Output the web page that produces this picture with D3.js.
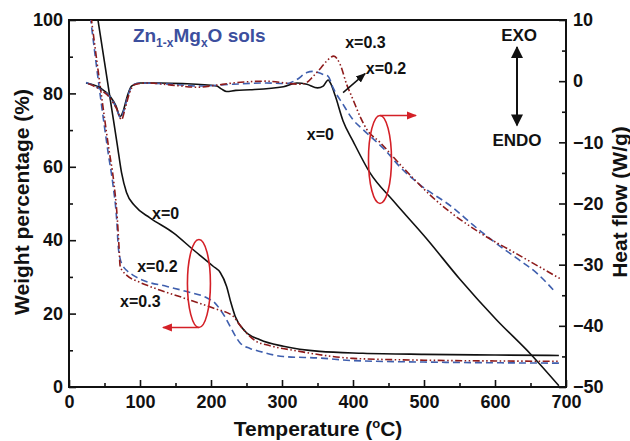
<!DOCTYPE html>
<html>
<head>
<meta charset="utf-8">
<script src="https://cdn.jsdelivr.net/npm/d3@7"></script>
<style>
body { margin: 0; background: #fff; }
svg { display: block; }
text { font-family: "Liberation Sans", Arial, sans-serif; font-weight: bold; }
</style>
</head>
<body>
<svg width="630" height="441"></svg>
<script>
// TG curves, [temperature (°C), weight (%)]
var tg0 = [[40, 101], [50, 88.5], [60, 76], [68, 66], [74, 58.4], [81, 53], [93, 49.3], [114, 46.1], [147, 42],
    [175, 37.4], [203, 32.9], [213, 31.2], [222, 27.4], [228, 23], [234, 19.3], [248, 15.2], [269, 12.9],
    [302, 11.1], [353, 9.7], [414, 9.2], [500, 8.9], [600, 8.7], [690, 8.6]]
var tg2 = [[30, 101], [45, 78], [55, 64], [62, 55], [67, 46], [69.5, 38], [72, 35], [76, 33], [81, 31.8],
    [90, 30.5], [100, 29.4], [138, 27.4], [166, 26], [194, 24.3], [205, 23], [213, 21.1], [220, 19],
    [227, 16.5], [234, 14], [241, 12], [255, 10.5], [269, 9.7], [302, 8.3], [353, 7.9], [400, 7.2],
    [500, 6.8], [600, 6.6], [690, 6.5]]
var tg3 = [[31, 101], [46, 79], [56, 65], [63, 56], [68, 46], [70.5, 38], [72, 33], [76, 31.5], [81, 30.5],
    [100, 28.5], [114, 27.4], [161, 24.3], [203, 21.5], [231, 19.3], [240, 17], [250, 14.7], [265, 12.3],
    [278, 11.5], [325, 9.7], [353, 8.8], [400, 7.8], [500, 7.3], [600, 7.1], [690, 7]]

// DSC curves, [temperature (°C), heat flow (W/g)]
var dsc0 = [[24, -0.3], [44, -1.1], [58, -2.5], [66, -4], [72, -5.8], [76, -5], [82, -2.5], [88, -0.8],
    [100, -0.3], [128, -0.3], [160, -0.4], [208, -0.8], [215, -1.3], [222, -1.7], [235, -1.5], [255, -1.4],
    [302, -0.9], [321, -0.3], [335, -0.5], [350, -1.1], [358, -0.8], [365, 0.2], [369, -0.5], [375, -2.4],
    [386, -6.5], [400, -9.8], [424, -15], [457, -19.6], [504, -25.8], [550, -32.3], [602, -39], [650, -44.6],
    [690, -49.8]]
var dsc2 = [[24, -0.2], [44, -1.3], [58, -2.6], [66, -4.2], [73, -6], [78, -4.5], [84, -2], [90, -0.6],
    [100, -0.3], [130, -0.4], [185, -0.8], [231, -0.5], [278, -0.3], [306, -0.4], [320, 0.2], [335, 1.4],
    [344, 1.6], [358, 1.1], [365, 0.8], [372, -1.1], [386, -3.8], [400, -6.3], [414, -7.9], [447, -11.5],
    [466, -14], [494, -16.9], [541, -20.7], [569, -23.5], [598, -26.2], [630, -28.9], [660, -31.5], [685, -34.5]]
var dsc3 = [[27, -0.4], [44, -1.4], [58, -2.8], [67, -4.5], [74, -6.3], [79, -4.5], [85, -2], [92, -0.6],
    [110, -0.3], [150, -0.7], [182, -1], [205, -0.7], [231, -0.3], [278, 0], [325, -0.5], [335, -0.2],
    [344, 0.8], [355, 2.2], [363, 3.3], [373, 4.1], [382, 2.7], [391, -0.5], [400, -3], [410, -5.8],
    [419, -7.8], [438, -10], [471, -14.2], [518, -19.6], [579, -24.8], [630, -28.2], [692, -32.3]]

// ticks
var xTicks = [0, 100, 200, 300, 400, 500, 600, 700]
var xMinor = [50, 150, 250, 350, 450, 550, 650]
var yLTicks = [0, 20, 40, 60, 80, 100]
var yLMinor = [10, 30, 50, 70, 90]
var yRTicks = [-50, -40, -30, -20, -10, 0, 10]
var yRMinor = [-45, -35, -25, -15, -5, 5]

var blue = '#3f5fae'
var maroon = '#8e1b1b'
var red = '#d42027'

var svg = d3.select('svg')

var x = d3.scaleLinear().domain([0, 700]).range([69, 566])
var yL = d3.scaleLinear().domain([0, 100]).range([387, 20])
var yR = d3.scaleLinear().domain([-50, 10]).range([387, 20])

var defs = svg.append('defs')
defs.append('clipPath').attr('id', 'plot')
    .append('rect').attr('x', 69).attr('y', 20).attr('width', 497).attr('height', 367)

function marker(id, color) {
    defs.append('marker')
        .attr('id', id)
        .attr('viewBox', '0 0 10 10')
        .attr('refX', 9).attr('refY', 5)
        .attr('markerWidth', 10).attr('markerHeight', 10)
        .attr('markerUnits', 'userSpaceOnUse')
        .attr('orient', 'auto-start-reverse')
        .append('path').attr('d', 'M0,1L10,5L0,9Z').attr('fill', color)
}
marker('arrBlack', '#111')
marker('arrRed', red)
defs.append('marker')
    .attr('id', 'arrBig')
    .attr('viewBox', '0 0 10 10')
    .attr('refX', 9).attr('refY', 5)
    .attr('markerWidth', 16).attr('markerHeight', 12)
    .attr('markerUnits', 'userSpaceOnUse')
    .attr('orient', 'auto-start-reverse')
    .append('path').attr('d', 'M0,0L10,5L0,10Z').attr('fill', '#111')

// axes
function styleAxis(g) {
    g.select('.domain').remove()
    g.attr('font-size', 18)
    g.selectAll('line').attr('stroke', '#111').attr('stroke-width', 1.6)
    g.selectAll('text').attr('fill', '#111')
}
svg.append('g').attr('transform', 'translate(0,387)')
    .call(d3.axisBottom(x).tickValues(xTicks).tickSize(-7).tickSizeOuter(0).tickPadding(8))
    .call(styleAxis)
svg.append('g').attr('transform', 'translate(0,387)')
    .call(d3.axisBottom(x).tickValues(xMinor).tickSize(-4).tickSizeOuter(0).tickFormat(''))
    .call(styleAxis)
svg.append('g').attr('transform', 'translate(69,0)')
    .call(d3.axisLeft(yL).tickValues(yLTicks).tickSize(-7).tickSizeOuter(0).tickPadding(6))
    .call(styleAxis)
svg.append('g').attr('transform', 'translate(69,0)')
    .call(d3.axisLeft(yL).tickValues(yLMinor).tickSize(-4).tickSizeOuter(0).tickFormat(''))
    .call(styleAxis)
svg.append('g').attr('transform', 'translate(566,0)')
    .call(d3.axisRight(yR).tickValues(yRTicks).tickSize(-7).tickSizeOuter(0).tickPadding(7))
    .call(styleAxis)
svg.append('g').attr('transform', 'translate(566,0)')
    .call(d3.axisRight(yR).tickValues(yRMinor).tickSize(-4).tickSizeOuter(0).tickFormat(''))
    .call(styleAxis)

svg.append('rect')
    .attr('x', 69).attr('y', 20).attr('width', 497).attr('height', 367)
    .attr('fill', 'none').attr('stroke', '#111').attr('stroke-width', 2)

// curves
var lineL = d3.line().x(d => x(d[0])).y(d => yL(d[1])).curve(d3.curveMonotoneX)
var lineR = d3.line().x(d => x(d[0])).y(d => yR(d[1])).curve(d3.curveMonotoneX)

var series = [
    { data: tg0, line: lineL, color: '#111', dash: null },
    { data: tg2, line: lineL, color: blue, dash: '7,4' },
    { data: tg3, line: lineL, color: maroon, dash: '7,2.5,1.5,2.5,1.5,2.5' },
    { data: dsc0, line: lineR, color: '#111', dash: null },
    { data: dsc2, line: lineR, color: blue, dash: '7,4' },
    { data: dsc3, line: lineR, color: maroon, dash: '7,2.5,1.5,2.5,1.5,2.5' }
]
var gLines = svg.append('g').attr('clip-path', 'url(#plot)')
gLines.selectAll('path').data(series).enter().append('path')
    .attr('d', d => d.line(d.data))
    .attr('fill', 'none')
    .attr('stroke', d => d.color)
    .attr('stroke-width', 1.6)
    .attr('stroke-dasharray', d => d.dash)

// annotations (positions in temperature / weight units)
var labels = [
    { text: 'x=0.3', T: 389, w: 92.4 },
    { text: 'x=0.2', T: 418, w: 85.2 },
    { text: 'x=0', T: 335, w: 67.2 },
    { text: 'x=0', T: 117, w: 45.9 },
    { text: 'x=0.2', T: 96, w: 31.4 },
    { text: 'x=0.3', T: 72, w: 21.9 }
]
svg.selectAll('.lab').data(labels).enter().append('text')
    .attr('class', 'lab')
    .attr('x', d => x(d.T)).attr('y', d => yL(d.w))
    .attr('font-size', 16).attr('fill', '#111')
    .text(d => d.text)

// arrow to x=0.2 curve
svg.append('line')
    .attr('x1', x(386)).attr('y1', yL(80.2)).attr('x2', x(417)).attr('y2', yL(85.4))
    .attr('stroke', '#111').attr('stroke-width', 1.5).attr('marker-end', 'url(#arrBlack)')

// title
var title = svg.append('text').attr('x', x(90)).attr('y', yL(93.9))
    .attr('font-size', 19).attr('fill', '#3c4f9e')
title.append('tspan').text('Zn')
title.append('tspan').attr('font-size', 12).attr('dy', 5).text('1-x')
title.append('tspan').attr('dy', -5).text('Mg')
title.append('tspan').attr('font-size', 12).attr('dy', 5).text('x')
title.append('tspan').attr('dy', -5).text('O sols')

// EXO / ENDO
svg.append('text').attr('x', x(634)).attr('y', yL(94.4)).attr('text-anchor', 'middle')
    .attr('font-size', 17).attr('fill', '#111').text('EXO')
svg.append('text').attr('x', x(631)).attr('y', yL(65.8)).attr('text-anchor', 'middle')
    .attr('font-size', 17).attr('fill', '#111').text('ENDO')
svg.append('line')
    .attr('x1', x(631)).attr('y1', yL(92.6)).attr('x2', x(631)).attr('y2', yL(71.3))
    .attr('stroke', '#111').attr('stroke-width', 2)
    .attr('marker-start', 'url(#arrBig)').attr('marker-end', 'url(#arrBig)')

// ellipses with arrows pointing to axes
var ellipses = [
    { T: 438, w: 62, dir: 1 },
    { T: 183, w: 28.2, dir: -1 }
]
ellipses.forEach(function (e) {
    var cx = x(e.T), cy = yL(e.w)
    svg.append('ellipse')
        .attr('cx', cx).attr('cy', cy).attr('rx', 11.5).attr('ry', 44)
        .attr('fill', 'none').attr('stroke', red).attr('stroke-width', 1.6)
    var ay = e.dir > 0 ? cy - 44 : cy + 44
    svg.append('line')
        .attr('x1', cx).attr('y1', ay).attr('x2', cx + e.dir * 36).attr('y2', ay)
        .attr('stroke', red).attr('stroke-width', 1.5).attr('marker-end', 'url(#arrRed)')
})

// axis titles
var xt = svg.append('text').attr('x', 318).attr('y', 436).attr('text-anchor', 'middle')
    .attr('font-size', 21).attr('fill', '#111')
xt.append('tspan').text('Temperature (')
xt.append('tspan').attr('font-size', 13).attr('dy', -8).text('o')
xt.append('tspan').attr('dy', 8).text('C)')

svg.append('text').attr('transform', 'translate(29,202) rotate(-90)').attr('text-anchor', 'middle')
    .attr('font-size', 21).attr('fill', '#111').text('Weight percentage (%)')
svg.append('text').attr('transform', 'translate(627,202) rotate(-90)').attr('text-anchor', 'middle')
    .attr('font-size', 21).attr('fill', '#111').text('Heat flow (W/g)')
</script>
</body>
</html>
